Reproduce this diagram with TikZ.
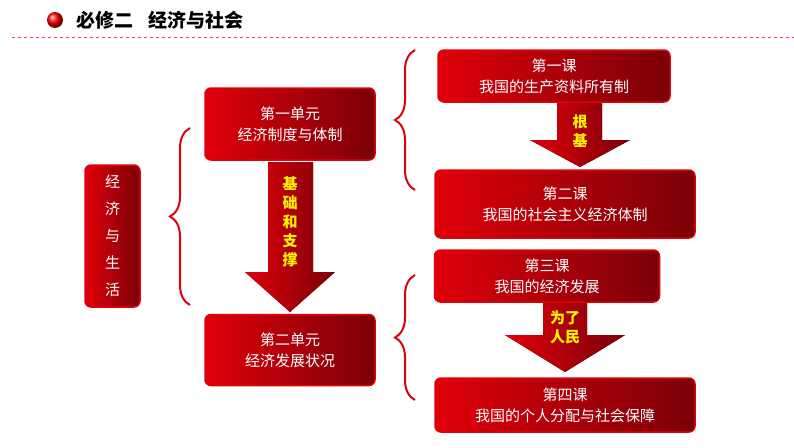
\documentclass[tikz,border=0pt]{standalone}
\usepackage{fontspec}
\newfontfamily\cjk{Noto Sans CJK SC}
\usetikzlibrary{decorations.pathreplacing,shadows}
\definecolor{rb}{HTML}{E0000A}
\definecolor{rd}{HTML}{7A0008}
\begin{document}
\begin{tikzpicture}[x=1pt,y=-1pt,
 box/.style={draw=rb,line width=1.5pt,rounded corners=6pt,left color=rb,right color=rd,text=white,font=\cjk\fontsize{15}{21}\selectfont,align=center,inner sep=0pt},
 bigarrow/.style={draw=none,left color=rb,right color=rd},
 brc/.style={draw=rb,line width=2pt,decorate,decoration={brace,amplitude=20pt,aspect=0.5}},
 lab/.style={text=yellow,font=\cjk\bfseries\fontsize{15}{19}\selectfont,align=center}]
\useasboundingbox (0,0) rectangle (794,447);
\fill[white] (0,0) rectangle (794,447);
\shade[ball color=red] (55,20) circle (8);
\node[anchor=west,font=\cjk\bfseries\fontsize{19}{20}\selectfont] (title) at (73,20) {必修二\hspace{0.8em}经济与社会};
\draw[rb!70,dashed,line width=0.6pt] (12,37) -- (794,37);
% arrows
\fill[bigarrow] (268,162) -- (313,162) -- (313,272) -- (335,272) -- (290,312) -- (245,272) -- (268,272) -- cycle;
\node[lab] (a1) at (290,222) {基\\础\\和\\支\\撑};
\fill[bigarrow] (557,103) -- (602,103) -- (602,140) -- (630,140) -- (580,167) -- (530,140) -- (557,140) -- cycle;
\node[lab] (a2) at (580,131) {根\\基};
\fill[bigarrow] (543,303) -- (587,303) -- (587,335) -- (625,335) -- (565,372) -- (505,335) -- (543,335) -- cycle;
\node[lab] (a3) at (565,327) {为了\\人民};
% boxes
\node[box,minimum width=55,minimum height=142] (life) at (112.5,236) {经\\[6pt]济\\[6pt]与\\[6pt]生\\[6pt]活};
\node[box,minimum width=170,minimum height=72] (u1) at (290,124) {第一单元\\经济制度与体制};
\node[box,minimum width=170,minimum height=71] (u2) at (290,350) {第二单元\\经济发展状况};
\node[box,minimum width=232,minimum height=52] (l1) at (554,76) {第一课\\我国的生产资料所有制};
\node[box,minimum width=260,minimum height=68] (l2) at (565,204) {第二课\\我国的社会主义经济体制};
\node[box,minimum width=225,minimum height=52] (l3) at (547,276) {第三课\\我国的经济发展};
\node[box,minimum width=260,minimum height=54] (l4) at (565,405) {第四课\\我国的个人分配与社会保障};
% braces
\draw[brc] (190,305) -- (190,128);
\draw[brc] (415,190) -- (415,50);
\draw[brc] (415,400) -- (415,275);
\end{tikzpicture}
\end{document}
